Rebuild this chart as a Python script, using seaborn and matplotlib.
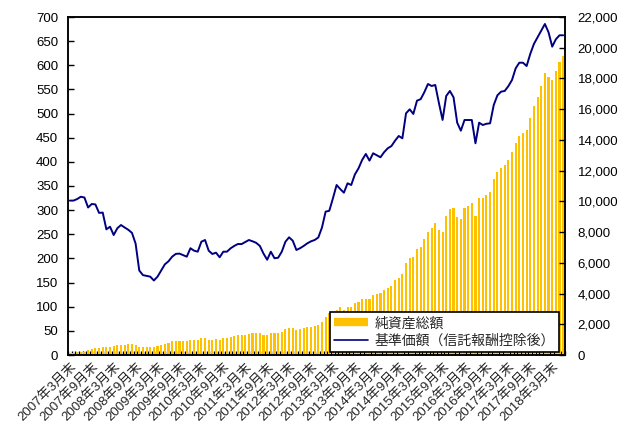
import matplotlib
matplotlib.use('Agg')
import matplotlib.pyplot as plt
import seaborn as sns
import pandas as pd
import numpy as np
from matplotlib.lines import Line2D
from matplotlib.ticker import MultipleLocator, FuncFormatter, FixedLocator

# ---- data (monthly, 2007-03 .. 2018-06) ----
net_assets = [5, 5, 6, 6, 7, 10, 12, 14, 15, 16, 16, 17, 18, 20, 21, 21, 22, 22, 21, 16,
              16, 17, 17, 17, 19, 21, 23, 25, 28, 29, 29, 29, 28, 32, 32, 32, 35, 36, 32, 32,
              33, 32, 36, 36, 37, 39, 41, 42, 42, 44, 45, 45, 45, 42, 41, 45, 45, 46, 48, 54,
              56, 55, 52, 53, 55, 57, 58, 60, 62, 69, 79, 86, 86, 93, 100, 93, 100, 100, 107, 110,
              115, 115, 115, 124, 126, 129, 135, 138, 143, 155, 160, 167, 190, 200, 202, 219, 224, 240, 255, 262,
              274, 258, 255, 288, 302, 304, 285, 282, 304, 309, 315, 288, 325, 325, 331, 338, 364, 378, 388, 394,
              404, 420, 440, 454, 460, 467, 491, 516, 535, 557, 583, 576, 570, 589, 607, 620]

nav = [10050, 10050, 10150, 10300, 10250, 9600, 9830, 9800, 9250, 9270, 8180, 8350, 7810, 8250, 8460, 8300, 8150, 7950, 7250, 5500,
       5200, 5150, 5100, 4850, 5100, 5500, 5900, 6100, 6400, 6580, 6600, 6500, 6400, 6950, 6790, 6725, 7375, 7485, 6790, 6575,
       6660, 6360, 6725, 6725, 6945, 7100, 7225, 7220, 7350, 7485, 7400, 7300, 7100, 6600, 6200, 6725, 6300, 6330, 6725, 7375,
       7660, 7440, 6835, 6950, 7100, 7270, 7400, 7485, 7650, 8300, 9330, 9390, 10200, 11065, 10800, 10565, 11175, 11065, 11750, 12150,
       12700, 13085, 12650, 13130, 13000, 12870, 13200, 13455, 13600, 13950, 14255, 14105, 15730, 15990, 15690, 16555, 16650, 17100, 17640, 17510,
       17575, 16400, 15300, 16860, 17185, 16775, 15120, 14600, 15295, 15295, 15295, 13780, 15120, 14970, 15050, 15080, 16270, 16900, 17140, 17185,
       17500, 17900, 18660, 19025, 19025, 18810, 19600, 20250, 20680, 21100, 21545, 21000, 20070, 20550, 20810, 20810]

tick_labels = ["2007年3月末", "2007年9月末", "2008年3月末", "2008年9月末", "2009年3月末", "2009年9月末",
               "2010年3月末", "2010年9月末", "2011年3月末", "2011年9月末", "2012年3月末", "2012年9月末",
               "2013年3月末", "2013年9月末", "2014年3月末", "2014年9月末", "2015年3月末", "2015年9月末",
               "2016年3月末", "2016年9月末", "2017年3月末", "2017年9月末", "2018年3月末"]

legend_labels = ["純資産総額", "基準価額（信託報酬控除後）"]

BAR_COLOR = '#FFC000'
LINE_COLOR = '#000080'

sns.set_style('ticks')
plt.rcParams['font.family'] = ['Liberation Sans', 'Noto Sans CJK JP', 'DejaVu Sans']

n = len(net_assets)
df = pd.DataFrame({'pos': np.arange(n), 'assets': net_assets, 'nav': nav})

W, H = 627, 432
fig = plt.figure(figsize=(W / 100, H / 100), dpi=100)
ax = fig.add_axes([68 / W, 1 - 355 / H, 497 / W, 338 / H])

sns.barplot(data=df, x='pos', y='assets', color=BAR_COLOR, saturation=1, width=0.58,
            linewidth=0, ax=ax, zorder=2)
ax2 = ax.twinx()
sns.lineplot(data=df, x='pos', y='nav', color=LINE_COLOR, linewidth=1.4, ax=ax2, zorder=3)

ax.set_xlim(-0.5, n - 0.5)
ax2.set_xlim(-0.5, n - 0.5)
ax.set_ylim(0, 700)
ax2.set_ylim(0, 22000)
ax.yaxis.set_major_locator(MultipleLocator(50))
ax2.yaxis.set_major_locator(MultipleLocator(2000))
ax2.yaxis.set_major_formatter(FuncFormatter(lambda v, p: f"{v:,.0f}"))

ax.set_xlabel('')
ax.set_ylabel('')
ax2.set_xlabel('')
ax2.set_ylabel('')

label_pos = list(range(0, 6 * len(tick_labels), 6))
ax.xaxis.set_major_locator(FixedLocator(label_pos))
ax.set_xticklabels(tick_labels, fontsize=9.5)
for t in ax.get_xticklabels():
    t.set_rotation(45)
    t.set_ha('right')
    t.set_va('top')
    t.set_rotation_mode('anchor')
ax.xaxis.set_minor_locator(FixedLocator(np.arange(-0.5, n, 1)))
ax.tick_params(axis='x', which='major', length=0, pad=4)
ax.tick_params(axis='x', which='minor', direction='in', length=3, width=1, color='black')
ax2.tick_params(axis='x', which='both', length=0)

ax.tick_params(axis='y', direction='in', length=4, width=1, labelsize=9.5, pad=7, colors='black')
ax2.tick_params(axis='y', direction='in', length=4, width=1, labelsize=9.5, pad=9, colors='black')

for a in (ax, ax2):
    for s in a.spines.values():
        s.set_visible(True)
        s.set_color('black')
        s.set_linewidth(1.1)

handles = [Line2D([], [], color=BAR_COLOR, lw=6, solid_capstyle='butt'),
           Line2D([], [], color=LINE_COLOR, lw=1.2)]
leg = ax2.legend(handles, legend_labels, loc='lower right', bbox_to_anchor=(0.988, 0.009),
                 borderaxespad=0, fontsize=10, frameon=True, fancybox=False, framealpha=1,
                 edgecolor='black', handlelength=2.4, handletextpad=0.5, labelspacing=0.25,
                 borderpad=0.3)
leg.get_frame().set_linewidth(1.2)
leg.set_zorder(10)

fig.savefig('out.png', dpi=100)
